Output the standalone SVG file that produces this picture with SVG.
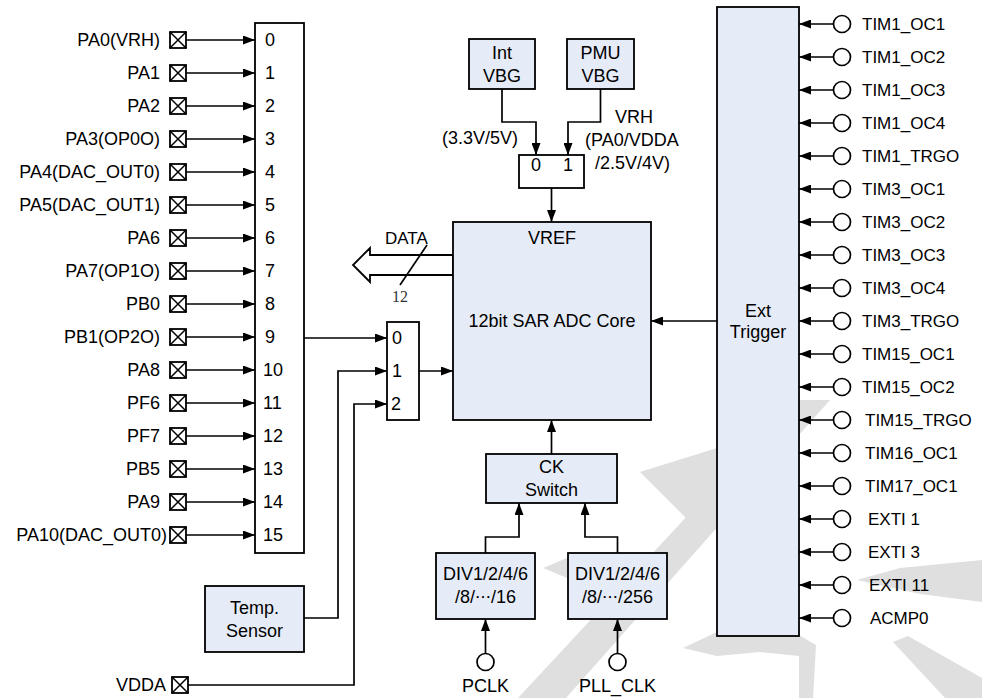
<svg xmlns="http://www.w3.org/2000/svg" width="982" height="698" viewBox="0 0 982 698">
<defs>
<marker id="arr" viewBox="0 0 12 9" refX="12" refY="4.5" markerWidth="12" markerHeight="9" markerUnits="userSpaceOnUse" orient="auto"><path d="M0,0 L12,4.5 L0,9 z" fill="#000"/></marker>
<g id="xpin"><rect x="0" y="-8" width="16" height="16" fill="#fff" stroke="#000" stroke-width="1.8"/><path d="M0,-8 L16,8 M0,8 L16,-8" stroke="#000" stroke-width="1.5" fill="none"/></g>
</defs>
<style>
.box{fill:#e6ecf7;stroke:#000;stroke-width:1.8}
.wbox{fill:#fff;stroke:#000;stroke-width:1.8}
.ln{fill:none;stroke:#000;stroke-width:1.7}
.ar{fill:none;stroke:#000;stroke-width:1.7;marker-end:url(#arr)}
.t{font-family:"Liberation Sans",Arial,sans-serif;font-size:17px;fill:#000}
.tl{font-family:"Liberation Sans",Arial,sans-serif;font-size:18px;fill:#000}
.c{text-anchor:middle}
.e{text-anchor:end}
.wm{fill:#dfdfdf}
.cir{fill:#fff;stroke:#000;stroke-width:1.7}
</style>
<rect width="982" height="698" fill="#fff"/>
<g id="watermark">
<polygon class="wm" points="518,698 566,698 830,400 795,400"/>
<polygon class="wm" points="640,472 717,448 717,530 690,522"/>
<polygon class="wm" points="543,568 567,558 567,578"/>
<polygon class="wm" points="683,648 717,632 760,628 800,632 799,656 760,652 717,656"/>
<polygon class="wm" points="799,635 816,645 813,698 799,698"/>
<polygon class="wm" points="857,580 900,568 982,560 982,602 920,594"/>
<polygon class="wm" points="893,642 908,636 982,678 982,698 945,698"/>
</g>

<g id="connectors">
<line class="ar" x1="186" y1="40" x2="255" y2="40"/>
<line class="ar" x1="186" y1="73" x2="255" y2="73"/>
<line class="ar" x1="186" y1="106" x2="255" y2="106"/>
<line class="ar" x1="186" y1="139" x2="255" y2="139"/>
<line class="ar" x1="186" y1="172" x2="255" y2="172"/>
<line class="ar" x1="186" y1="205" x2="255" y2="205"/>
<line class="ar" x1="186" y1="238" x2="255" y2="238"/>
<line class="ar" x1="186" y1="271" x2="255" y2="271"/>
<line class="ar" x1="186" y1="304" x2="255" y2="304"/>
<line class="ar" x1="186" y1="337" x2="255" y2="337"/>
<line class="ar" x1="186" y1="370" x2="255" y2="370"/>
<line class="ar" x1="186" y1="403" x2="255" y2="403"/>
<line class="ar" x1="186" y1="436" x2="255" y2="436"/>
<line class="ar" x1="186" y1="469" x2="255" y2="469"/>
<line class="ar" x1="186" y1="502" x2="255" y2="502"/>
<line class="ar" x1="186" y1="535" x2="255" y2="535"/>
<line class="ar" x1="304" y1="338" x2="387" y2="338"/>
<polyline class="ar" points="304,618 338,618 338,371 387,371"/>
<polyline class="ar" points="188,685 354,685 354,404 387,404"/>
<line class="ar" x1="419" y1="371" x2="453" y2="371"/>
<line class="ar" x1="717" y1="321" x2="651" y2="321"/>
<polyline class="ar" points="502,89 502,122 536,122 536,155"/>
<polyline class="ar" points="600.5,89 600.5,122 568,122 568,155"/>
<line class="ar" x1="551.5" y1="188" x2="551.5" y2="222"/>
<line class="ar" x1="551.5" y1="454" x2="551.5" y2="420"/>
<polyline class="ar" points="485.5,553 485.5,537 519,537 519,503"/>
<polyline class="ar" points="617.5,553 617.5,537 585,537 585,503"/>
<line class="ar" x1="485.5" y1="653" x2="485.5" y2="619"/>
<line class="ar" x1="617.5" y1="653" x2="617.5" y2="619"/>
<line class="ar" x1="833" y1="24" x2="799" y2="24"/>
<line class="ar" x1="833" y1="57" x2="799" y2="57"/>
<line class="ar" x1="833" y1="90" x2="799" y2="90"/>
<line class="ar" x1="833" y1="123" x2="799" y2="123"/>
<line class="ar" x1="833" y1="156" x2="799" y2="156"/>
<line class="ar" x1="833" y1="189" x2="799" y2="189"/>
<line class="ar" x1="833" y1="222" x2="799" y2="222"/>
<line class="ar" x1="833" y1="255" x2="799" y2="255"/>
<line class="ar" x1="833" y1="288" x2="799" y2="288"/>
<line class="ar" x1="833" y1="321" x2="799" y2="321"/>
<line class="ar" x1="833" y1="354" x2="799" y2="354"/>
<line class="ar" x1="833" y1="387" x2="799" y2="387"/>
<line class="ar" x1="833" y1="420" x2="799" y2="420"/>
<line class="ar" x1="833" y1="453" x2="799" y2="453"/>
<line class="ar" x1="833" y1="486" x2="799" y2="486"/>
<line class="ar" x1="833" y1="519" x2="799" y2="519"/>
<line class="ar" x1="833" y1="552" x2="799" y2="552"/>
<line class="ar" x1="833" y1="585" x2="799" y2="585"/>
<line class="ar" x1="833" y1="618" x2="799" y2="618"/>
<polygon class="wbox" points="453,255 370,255 370,248 353,265 370,282 370,275 453,275"/>
<line class="ln" x1="427" y1="245" x2="400" y2="285" stroke-width="1.4"/>
</g>

<g id="data-labels">
<text class="t" x="385" y="244">DATA</text>
<text x="400" y="302" text-anchor="middle" font-family="'Liberation Serif','Times New Roman',serif" font-size="16" fill="#333">12</text>
</g>

<g id="left-pins" class="tl">
<g id="pin-PA0"><text class="e" x="160" y="46">PA0(VRH)</text><use href="#xpin" x="170" y="40"/></g>
<g id="pin-PA1"><text class="e" x="160" y="79">PA1</text><use href="#xpin" x="170" y="73"/></g>
<g id="pin-PA2"><text class="e" x="160" y="112">PA2</text><use href="#xpin" x="170" y="106"/></g>
<g id="pin-PA3"><text class="e" x="160" y="145">PA3(OP0O)</text><use href="#xpin" x="170" y="139"/></g>
<g id="pin-PA4"><text class="e" x="160" y="178">PA4(DAC_OUT0)</text><use href="#xpin" x="170" y="172"/></g>
<g id="pin-PA5"><text class="e" x="160" y="211">PA5(DAC_OUT1)</text><use href="#xpin" x="170" y="205"/></g>
<g id="pin-PA6"><text class="e" x="160" y="244">PA6</text><use href="#xpin" x="170" y="238"/></g>
<g id="pin-PA7"><text class="e" x="160" y="277">PA7(OP1O)</text><use href="#xpin" x="170" y="271"/></g>
<g id="pin-PB0"><text class="e" x="160" y="310">PB0</text><use href="#xpin" x="170" y="304"/></g>
<g id="pin-PB1"><text class="e" x="160" y="343">PB1(OP2O)</text><use href="#xpin" x="170" y="337"/></g>
<g id="pin-PA8"><text class="e" x="160" y="376">PA8</text><use href="#xpin" x="170" y="370"/></g>
<g id="pin-PF6"><text class="e" x="160" y="409">PF6</text><use href="#xpin" x="170" y="403"/></g>
<g id="pin-PF7"><text class="e" x="160" y="442">PF7</text><use href="#xpin" x="170" y="436"/></g>
<g id="pin-PB5"><text class="e" x="160" y="475">PB5</text><use href="#xpin" x="170" y="469"/></g>
<g id="pin-PA9"><text class="e" x="160" y="508">PA9</text><use href="#xpin" x="170" y="502"/></g>
<g id="pin-PA10"><text class="e" x="167" y="541">PA10(DAC_OUT0)</text><use href="#xpin" x="170" y="535"/></g>
<g id="pin-VDDA"><text class="e" x="166" y="691">VDDA</text><use href="#xpin" x="172" y="685"/></g>
</g>

<g id="mux16">
<rect class="wbox" x="255" y="23" width="49" height="530"/>
<g class="tl">
<text x="265" y="46">0</text><text x="265" y="79">1</text><text x="265" y="112">2</text><text x="265" y="145">3</text>
<text x="265" y="178">4</text><text x="265" y="211">5</text><text x="265" y="244">6</text><text x="265" y="277">7</text>
<text x="265" y="310">8</text><text x="265" y="343">9</text><text x="263" y="376">10</text><text x="263" y="409">11</text>
<text x="263" y="442">12</text><text x="263" y="475">13</text><text x="263" y="508">14</text><text x="263" y="541">15</text>
</g>
</g>

<g id="mux3">
<rect class="wbox" x="387" y="322" width="32" height="98"/>
<g class="tl"><text x="392" y="344">0</text><text x="392" y="377">1</text><text x="391" y="410">2</text></g>
</g>

<g id="temp-sensor">
<rect class="box" x="205" y="586" width="99" height="66"/>
<text class="tl c" x="254.5" y="614">Temp.</text>
<text class="tl c" x="254.5" y="637">Sensor</text>
</g>

<g id="adc-core">
<rect class="box" x="453" y="222" width="198" height="198"/>
<text class="tl c" x="552" y="244">VREF</text>
<text class="tl c" x="552" y="327">12bit SAR ADC Core</text>
</g>

<g id="int-vbg">
<rect class="box" x="469" y="39" width="66" height="50"/>
<text class="tl c" x="502" y="59">Int</text>
<text class="tl c" x="502" y="82">VBG</text>
</g>

<g id="pmu-vbg">
<rect class="box" x="567" y="39" width="67" height="50"/>
<text class="tl c" x="600.5" y="59">PMU</text>
<text class="tl c" x="600.5" y="82">VBG</text>
</g>

<g id="vref-mux">
<rect class="wbox" x="519" y="155" width="65" height="33"/>
<text class="tl c" x="536" y="171">0</text>
<text class="tl c" x="568" y="171">1</text>
</g>

<g id="vref-labels" class="tl">
<text class="e" x="518" y="144">(3.3V/5V)</text>
<text class="c" x="634" y="123">VRH</text>
<text x="585" y="146">(PA0/VDDA</text>
<text x="595" y="169">/2.5V/4V)</text>
</g>

<g id="ck-switch">
<rect class="box" x="486" y="454" width="131" height="49"/>
<text class="tl c" x="551.5" y="473">CK</text>
<text class="tl c" x="551.5" y="496">Switch</text>
</g>

<g id="div-pclk">
<rect class="box" x="436" y="553" width="99" height="66"/>
<text class="tl c" x="485.5" y="580">DIV1/2/4/6</text>
<text class="tl c" x="485.5" y="603">/8/<tspan font-family="'Noto Sans CJK SC',sans-serif" font-size="16">…</tspan>/16</text>
</g>

<g id="div-pll">
<rect class="box" x="568" y="553" width="99" height="66"/>
<text class="tl c" x="617.5" y="580">DIV1/2/4/6</text>
<text class="tl c" x="617.5" y="603">/8/<tspan font-family="'Noto Sans CJK SC',sans-serif" font-size="16">…</tspan>/256</text>
</g>

<g id="pclk">
<circle class="cir" cx="485.5" cy="662" r="8.5"/>
<text class="tl c" x="485.5" y="692">PCLK</text>
</g>

<g id="pll-clk">
<circle class="cir" cx="617.5" cy="662" r="8.5"/>
<text class="tl c" x="617.5" y="692">PLL_CLK</text>
</g>

<g id="ext-trigger">
<rect class="box" x="717" y="7" width="82" height="629"/>
<text class="tl c" x="758" y="317">Ext</text>
<text class="tl c" x="758" y="338">Trigger</text>
</g>

<g id="trigger-sources" class="t">
<g id="src-TIM1_OC1"><circle class="cir" cx="842" cy="24" r="8.5"/><text x="862" y="30">TIM1_OC1</text></g>
<g id="src-TIM1_OC2"><circle class="cir" cx="842" cy="57" r="8.5"/><text x="862" y="63">TIM1_OC2</text></g>
<g id="src-TIM1_OC3"><circle class="cir" cx="842" cy="90" r="8.5"/><text x="862" y="96">TIM1_OC3</text></g>
<g id="src-TIM1_OC4"><circle class="cir" cx="842" cy="123" r="8.5"/><text x="862" y="129">TIM1_OC4</text></g>
<g id="src-TIM1_TRGO"><circle class="cir" cx="842" cy="156" r="8.5"/><text x="862" y="162">TIM1_TRGO</text></g>
<g id="src-TIM3_OC1"><circle class="cir" cx="842" cy="189" r="8.5"/><text x="862" y="195">TIM3_OC1</text></g>
<g id="src-TIM3_OC2"><circle class="cir" cx="842" cy="222" r="8.5"/><text x="862" y="228">TIM3_OC2</text></g>
<g id="src-TIM3_OC3"><circle class="cir" cx="842" cy="255" r="8.5"/><text x="862" y="261">TIM3_OC3</text></g>
<g id="src-TIM3_OC4"><circle class="cir" cx="842" cy="288" r="8.5"/><text x="862" y="294">TIM3_OC4</text></g>
<g id="src-TIM3_TRGO"><circle class="cir" cx="842" cy="321" r="8.5"/><text x="862" y="327">TIM3_TRGO</text></g>
<g id="src-TIM15_OC1"><circle class="cir" cx="842" cy="354" r="8.5"/><text x="862" y="360">TIM15_OC1</text></g>
<g id="src-TIM15_OC2"><circle class="cir" cx="842" cy="387" r="8.5"/><text x="862" y="393">TIM15_OC2</text></g>
<g id="src-TIM15_TRGO"><circle class="cir" cx="842" cy="420" r="8.5"/><text x="865" y="426">TIM15_TRGO</text></g>
<g id="src-TIM16_OC1"><circle class="cir" cx="842" cy="453" r="8.5"/><text x="865" y="459">TIM16_OC1</text></g>
<g id="src-TIM17_OC1"><circle class="cir" cx="842" cy="486" r="8.5"/><text x="865" y="492">TIM17_OC1</text></g>
<g id="src-EXTI1"><circle class="cir" cx="842" cy="519" r="8.5"/><text x="868" y="525">EXTI 1</text></g>
<g id="src-EXTI3"><circle class="cir" cx="842" cy="552" r="8.5"/><text x="868" y="558">EXTI 3</text></g>
<g id="src-EXTI11"><circle class="cir" cx="842" cy="585" r="8.5"/><text x="869" y="591">EXTI 11</text></g>
<g id="src-ACMP0"><circle class="cir" cx="842" cy="618" r="8.5"/><text x="870" y="624">ACMP0</text></g>
</g>
</svg>
